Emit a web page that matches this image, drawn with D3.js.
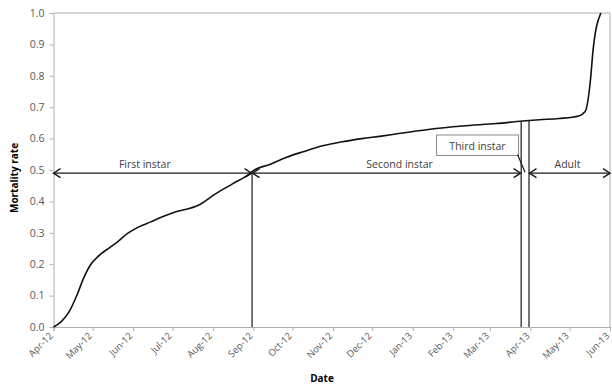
<!DOCTYPE html>
<html>
<head>
<meta charset="utf-8">
<script src="https://cdn.jsdelivr.net/npm/d3@7"></script>
<style>
  html, body { margin: 0; padding: 0; background: #fff; }
  svg { display: block; }
  text { font-family: "Open Sans", "Noto Sans", sans-serif; }
</style>
</head>
<body>
<svg id="chart" width="612" height="387"></svg>
<script>
// Cumulative mortality over the rearing period
const dates = ["2012-04-01","2012-04-07","2012-04-13","2012-04-19","2012-04-24","2012-04-29",
  "2012-05-06","2012-05-14","2012-05-20","2012-05-28","2012-06-05","2012-06-14","2012-06-21",
  "2012-07-01","2012-07-22","2012-08-03","2012-08-16","2012-08-29","2012-09-01","2012-09-13",
  "2012-09-26","2012-10-09","2012-10-24","2012-11-08","2012-11-23","2012-12-08","2012-12-21",
  "2013-01-13","2013-02-08","2013-03-06","2013-03-26","2013-04-08","2013-04-23","2013-05-08",
  "2013-05-13","2013-05-17","2013-05-19","2013-05-25"];
const mortality = [0.000,0.017,0.049,0.102,0.155,0.196,
  0.228,0.253,0.271,0.299,0.318,0.334,0.347,
  0.363,0.390,0.424,0.456,0.488,0.498,0.517,
  0.540,0.558,0.577,0.590,0.600,0.608,0.616,
  0.629,0.640,0.648,0.656,0.660,0.664,0.672,
  0.686,0.785,0.880,1.000];

// Life stages: start / end dates
const stageNames = ["First instar","Second instar","Third instar","Adult"];
const stageStart = ["2012-04-01","2012-08-31","2013-03-25","2013-03-31"];
const stageEnd   = ["2012-08-31","2013-03-25","2013-03-31","2013-06-01"];
const stageArrowLevel = 0.49;

const xDomain = ["2012-04-01","2013-06-01"];
const yTicks = [0,0.1,0.2,0.3,0.4,0.5,0.6,0.7,0.8,0.9,1.0];

const parse = d3.timeParse("%Y-%m-%d");
const series = dates.map((d, i) => ({ date: parse(d), value: mortality[i] }));

const svg = d3.select("#chart");
const plotLeft = 53.5, plotRight = 610, plotTop = 13, plotBottom = 327;

const x = d3.scaleTime().domain(xDomain.map(parse)).range([plotLeft, plotRight]);
const y = d3.scaleLinear().domain([0, 1]).range([plotBottom, plotTop]);

const axisGrey = "#b0b0b0";
const labelGrey = "#595959";

// Plot frame (top and right edges)
svg.append("path")
  .attr("d", `M${plotLeft},${plotTop}H${plotRight}V${plotBottom}`)
  .attr("fill", "none").attr("stroke", axisGrey).attr("stroke-width", 1);

// Y axis
const yAxis = svg.append("g")
  .attr("transform", `translate(${plotLeft},0)`)
  .call(d3.axisLeft(y).tickValues(yTicks).tickFormat(d3.format(".1f")).tickSize(4).tickPadding(5));
yAxis.select(".domain").attr("stroke", axisGrey);
yAxis.selectAll(".tick line").attr("stroke", axisGrey);
yAxis.selectAll(".tick text").attr("fill", labelGrey).attr("font-size", 10.5);

// X axis
const xAxis = svg.append("g")
  .attr("transform", `translate(0,${plotBottom})`)
  .call(d3.axisBottom(x).ticks(d3.timeMonth.every(1)).tickFormat(d3.timeFormat("%b-%y")).tickSize(4));
xAxis.select(".domain").attr("stroke", axisGrey);
xAxis.selectAll(".tick line").attr("stroke", axisGrey);
xAxis.selectAll(".tick text")
  .attr("fill", labelGrey).attr("font-size", 9.5)
  .attr("text-anchor", "end")
  .attr("dy", null).attr("y", 0)
  .attr("transform", "translate(-0.5,9.5) rotate(-45)");

// Axis titles
svg.append("text")
  .attr("x", 322).attr("y", 382)
  .attr("text-anchor", "middle").attr("font-size", 10).attr("font-weight", "bold")
  .text("Date");
svg.append("text")
  .attr("transform", `translate(18,178) rotate(-90)`)
  .attr("text-anchor", "middle").attr("font-size", 10).attr("font-weight", "bold")
  .text("Mortality rate");

// Arrow markers
const defs = svg.append("defs");
function marker(id, d) {
  defs.append("marker")
    .attr("id", id).attr("markerUnits", "userSpaceOnUse")
    .attr("viewBox", "-10 -6 20 12").attr("markerWidth", 20).attr("markerHeight", 12)
    .attr("refX", 0).attr("refY", 0).attr("orient", "auto")
    .append("path").attr("d", d)
    .attr("fill", "none").attr("stroke", "#1a1a1a").attr("stroke-width", 1.4);
}
marker("head", "M-7,-4.5L0,0L-7,4.5");
marker("tail", "M7,-4.5L0,0L7,4.5");

// Value of the curve on a given date (linear between readings)
function valueAt(date) {
  const t = +date;
  for (let i = 1; i < series.length; i++) {
    if (+series[i].date >= t) {
      const a = series[i - 1], b = series[i];
      const f = (t - a.date) / (b.date - a.date);
      return a.value + f * (b.value - a.value);
    }
  }
  return series[series.length - 1].value;
}

// Stage boundary lines
const boundaries = [stageEnd[0], stageEnd[1], stageEnd[2]].map(parse);
svg.append("g").selectAll("line").data(boundaries).join("line")
  .attr("x1", d => x(d)).attr("x2", d => x(d))
  .attr("y1", (d, i) => y(i === 0 ? stageArrowLevel : valueAt(d)))
  .attr("y2", y(0))
  .attr("stroke", "#1a1a1a").attr("stroke-width", 1.2);

// Stage span arrows and labels (third instar is labelled with a callout)
const arrowStages = [0, 1, 3];
const ay = y(stageArrowLevel);
svg.append("g").selectAll("line").data(arrowStages).join("line")
  .attr("x1", i => x(parse(stageStart[i])) + (i === 0 ? 0 : 0.5))
  .attr("x2", i => x(parse(stageEnd[i])) - (i === 3 ? 0 : 0.5))
  .attr("y1", ay).attr("y2", ay)
  .attr("stroke", "#1a1a1a").attr("stroke-width", 1.4)
  .attr("marker-start", "url(#tail)").attr("marker-end", "url(#head)");

const labelOffsets = { 0: -8, 1: 13, 3: -2 };
svg.append("g").selectAll("text").data(arrowStages).join("text")
  .attr("x", i => (x(parse(stageStart[i])) + x(parse(stageEnd[i]))) / 2 + labelOffsets[i])
  .attr("y", ay - 5)
  .attr("text-anchor", "middle").attr("font-size", 10.5).attr("fill", "#404040")
  .text(i => stageNames[i]);

// Third instar callout
const midThird = (x(parse(stageStart[2])) + x(parse(stageEnd[2]))) / 2;
const box = { x0: 436.5, x1: 518.5, y0: 135, y1: 155.5 };
svg.append("rect")
  .attr("x", box.x0).attr("y", box.y0)
  .attr("width", box.x1 - box.x0).attr("height", box.y1 - box.y0)
  .attr("fill", "#fff").attr("stroke", "#8c8c8c").attr("stroke-width", 1);
svg.append("text")
  .attr("x", (box.x0 + box.x1) / 2).attr("y", box.y1 - 6)
  .attr("text-anchor", "middle").attr("font-size", 10.5).attr("fill", "#404040")
  .text(stageNames[2]);
svg.append("line")
  .attr("x1", box.x1 - 1).attr("y1", box.y1 - 1)
  .attr("x2", midThird).attr("y2", ay - 1)
  .attr("stroke", "#1a1a1a").attr("stroke-width", 1.2);

// Mortality curve
svg.append("path")
  .datum(series)
  .attr("fill", "none").attr("stroke", "#111").attr("stroke-width", 1.6)
  .attr("stroke-linejoin", "round")
  .attr("d", d3.line().x(d => x(d.date)).y(d => y(d.value)).curve(d3.curveMonotoneX));
</script>
</body>
</html>
